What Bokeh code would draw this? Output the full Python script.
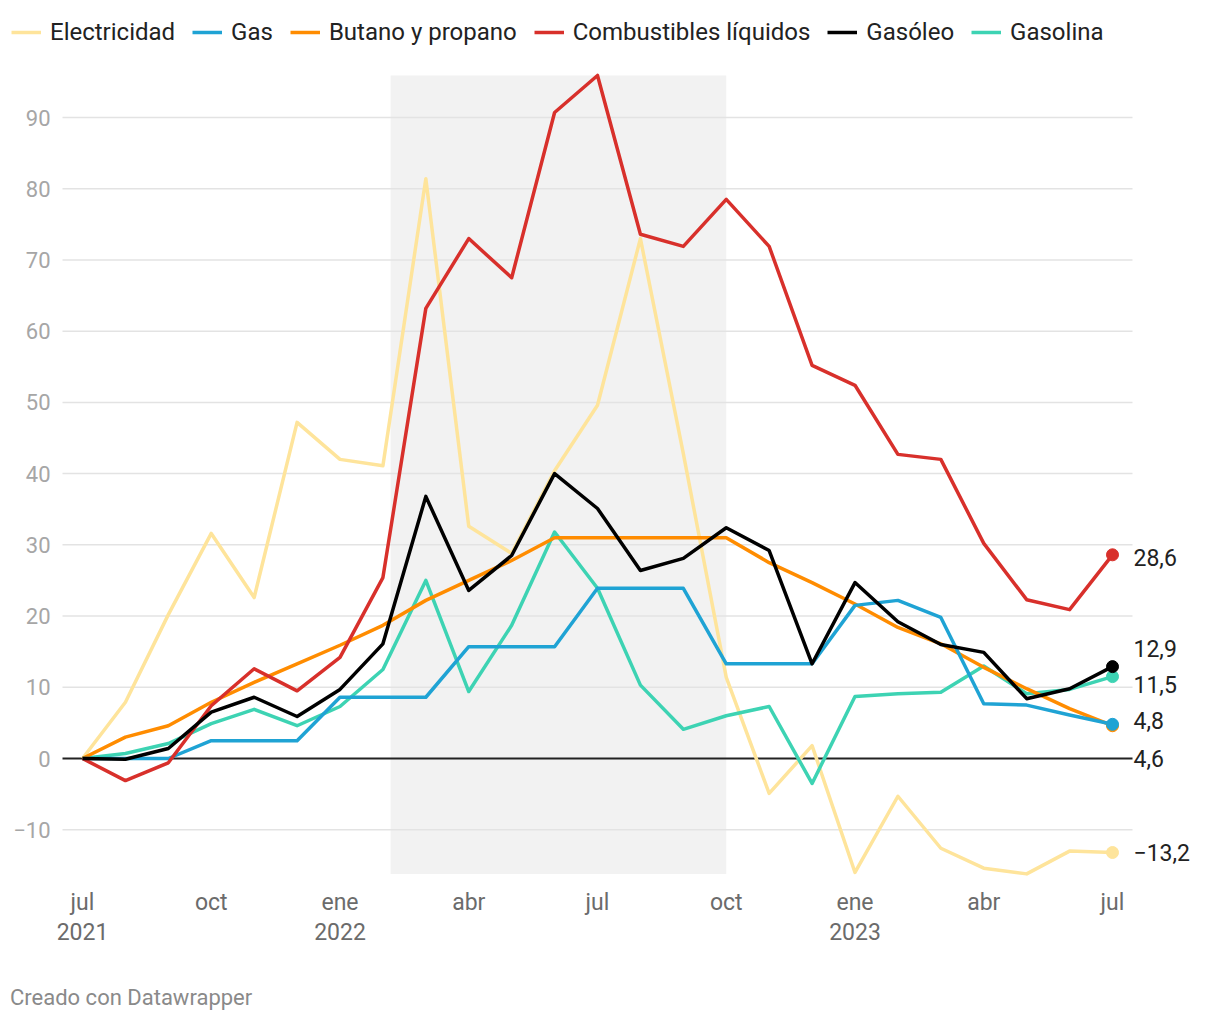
from bokeh.plotting import figure
from bokeh.models import (ColumnDataSource, Legend, LegendItem, FixedTicker, Div)
from bokeh.layouts import column
from bokeh.embed import file_html
from bokeh.resources import INLINE
from bokeh.core.properties import value

# ---------------- data ----------------
months = list(range(25))  # jul 2021 .. jul 2023
tick_months = [0, 3, 6, 9, 12, 15, 18, 21, 24]
tick_labels = ["jul\n2021", "oct", "ene\n2022", "abr", "jul", "oct", "ene\n2023", "abr", "jul"]
y_ticks = [-10, 0, 10, 20, 30, 40, 50, 60, 70, 80, 90]
y_tick_labels = ["−10", "0", "10", "20", "30", "40", "50", "60", "70", "80", "90"]

electricidad = [0, 7.9, 20.2, 31.6, 22.6, 47.2, 42.0, 41.1, 81.4, 32.6, 28.8, 40.4, 49.6,
                73.0, 42.8, 11.4, -4.9, 1.8, -16.0, -5.3, -12.6, -15.4, -16.2, -13.0, -13.2]
gas = [0, 0, 0, 2.5, 2.5, 2.5, 8.6, 8.6, 8.6, 15.7, 15.7, 15.7, 23.9,
       23.9, 23.9, 13.3, 13.3, 13.3, 21.5, 22.2, 19.8, 7.7, 7.5, 6.1, 4.8]
butano = [0, 3.0, 4.6, 7.9, 10.7, 13.3, 15.9, 18.7, 22.2, 25.0, 27.8, 31.0, 31.0,
          31.0, 31.0, 31.0, 27.5, 24.7, 21.7, 18.4, 16.1, 12.8, 9.8, 7.0, 4.6]
combustibles = [0, -3.1, -0.6, 7.4, 12.6, 9.5, 14.2, 25.4, 63.2, 73.0, 67.5, 90.7, 95.9,
                73.6, 71.9, 78.5, 71.9, 55.2, 52.4, 42.7, 42.0, 30.2, 22.3, 20.9, 28.6]
gasoleo = [0, -0.1, 1.4, 6.5, 8.6, 5.9, 9.7, 16.1, 36.8, 23.6, 28.5, 40.0, 35.1,
           26.4, 28.1, 32.4, 29.2, 13.3, 24.7, 19.2, 16.0, 14.9, 8.4, 9.8, 12.9]
gasolina = [0, 0.7, 2.1, 4.9, 6.9, 4.6, 7.3, 12.5, 25.0, 9.4, 18.7, 31.8, 23.9,
            10.3, 4.1, 6.0, 7.3, -3.5, 8.7, 9.1, 9.3, 13.0, 9.1, 9.7, 11.5]

series_names = ["Electricidad", "Gas", "Butano y propano", "Combustibles líquidos", "Gasóleo", "Gasolina"]
series_values = [electricidad, gas, butano, combustibles, gasoleo, gasolina]
series_colors = ["#fee49b", "#1fa3d4", "#ff8c00", "#d8302b", "#000000", "#3dd3b3"]
draw_order = [0, 5, 2, 1, 3, 4]

end_labels = ["−13,2", "4,8", "4,6", "28,6", "12,9", "11,5"]
end_label_shift = [0, -4, 33, 3, -18, 8]   # px, label collision avoidance

shade_start, shade_end = 7.18, 15  # shaded period (months)

FONT = "Roboto"

# ---------------- layout constants ----------------
W = 1220
PX_PER_MONTH = 1030 / 24
PX_PER_UNIT = 641 / 90
X0_PX, Y0_PX, PLOT_BOTTOM_PX = 82, 758, 880
AXIS_H = 82
H = PLOT_BOTTOM_PX + AXIS_H
grid_pad = 20 / PX_PER_MONTH
x_start = -X0_PX / PX_PER_MONTH
x_end = (W - X0_PX) / PX_PER_MONTH
y_end = Y0_PX / PX_PER_UNIT
y_start = -(PLOT_BOTTOM_PX - Y0_PX) / PX_PER_UNIT

p = figure(width=W, height=H, output_backend="svg", toolbar_location=None,
           x_range=(x_start, x_end), y_range=(y_start, y_end), y_axis_location=None,
           min_border_left=0, min_border_right=0, min_border_top=0,
           min_border_bottom=AXIS_H)
p.outline_line_color = None
p.background_fill_color = "white"
p.border_fill_color = "white"
p.grid.grid_line_color = None

gx0, gx1 = months[0] - grid_pad, months[-1] + grid_pad

# shaded period
p.quad(left=[shade_start], right=[shade_end], bottom=[min(electricidad)],
       top=[max(combustibles)], fill_color="#f2f2f2", line_color=None)

# gridlines
grid_vals = [t for t in y_ticks if t != 0]
p.segment(x0=[gx0] * len(grid_vals), x1=[gx1] * len(grid_vals), y0=grid_vals, y1=grid_vals,
          line_color="#e3e3e3", line_width=1.5)

# y tick labels
p.text(x=[gx0] * len(y_ticks), y=y_ticks, text=y_tick_labels, x_offset=-12,
       text_font=value(FONT), text_font_size="22px", text_color="#a6a6a6",
       text_align="right", text_baseline="middle")

# x axis
p.xaxis.ticker = FixedTicker(ticks=tick_months)
p.xaxis.major_label_overrides = dict(zip(tick_months, tick_labels))
p.xaxis.axis_line_color = None
p.xaxis.major_tick_line_color = None
p.xaxis.minor_tick_line_color = None
p.xaxis.major_label_standoff = 2
p.xaxis.major_label_text_font = FONT
p.xaxis.major_label_text_font_size = "23px"
p.xaxis.major_label_text_color = "#6b6b6b"
p.xaxis.major_label_text_line_height = 1.12

# zero line
p.segment(x0=[gx0], x1=[gx1], y0=[0], y1=[0], line_color="#222222", line_width=1.8)

# series
renderers = {}
for i in draw_order:
    src = ColumnDataSource(dict(x=months, y=series_values[i]))
    r = p.line("x", "y", source=src, line_color=series_colors[i], line_width=3.5,
               line_join="round")
    renderers[i] = r

for i in draw_order:
    p.scatter([months[-1]], [series_values[i][-1]], size=12, color=series_colors[i])

# end labels
p.text(x=[months[-1]] * 6, y=[v[-1] for v in series_values], text=end_labels,
       x_offset=21, y_offset=end_label_shift, text_font=value(FONT),
       text_font_size="23px", text_color="#222222", text_align="left",
       text_baseline="middle")

# legend
items = [LegendItem(label=series_names[i], renderers=[renderers[i]]) for i in range(6)]
legend = Legend(items=items, orientation="horizontal", location="top_left",
                glyph_width=30, glyph_height=42, label_height=42, label_standoff=9,
                spacing=17, padding=0, margin=11, border_line_color=None,
                background_fill_alpha=0,
                label_text_font=FONT, label_text_font_size="24px",
                label_text_color="#222222")
p.add_layout(legend, "center")

# credit
credit = Div(text="Creado con Datawrapper", width=W, height=1020 - H - 2, margin=0,
             styles={"font-family": FONT, "font-size": "22px", "color": "#8a8a8a",
                     "padding-left": "10px", "padding-top": "23px",
                     "line-height": "1.2", "box-sizing": "border-box"})

layout = column(p, credit, spacing=0)
open("out.html", "w").write(file_html(layout, INLINE))
